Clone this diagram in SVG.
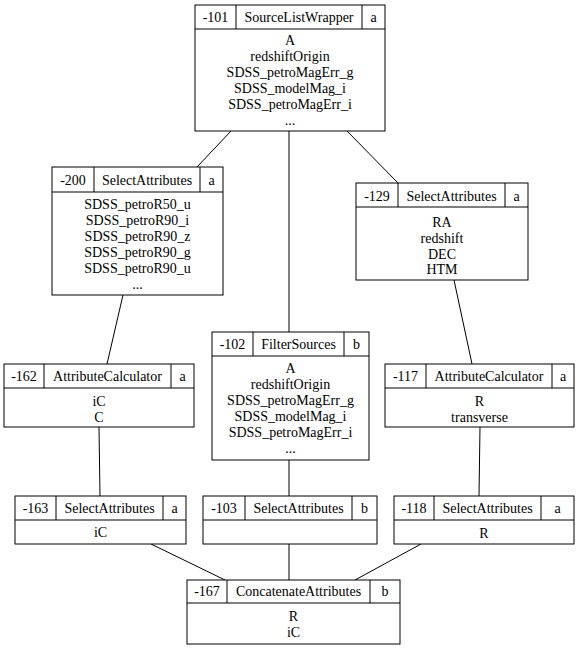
<svg xmlns="http://www.w3.org/2000/svg" width="578" height="648" viewBox="0 0 578 648">
<style>
rect{fill:#fff;stroke:#000;stroke-width:1}
line{stroke:#000;stroke-width:1}
text{font-family:"Liberation Serif","DejaVu Serif","Times New Roman",serif;font-size:14px;text-anchor:middle;fill:#000}
</style>
<g id="connectors">
<line x1="231" y1="131" x2="197" y2="167"/>
<line x1="289" y1="131" x2="289" y2="332"/>
<line x1="347" y1="131" x2="398" y2="183"/>
<line x1="123" y1="295" x2="107" y2="364"/>
<line x1="99" y1="427" x2="100" y2="496"/>
<line x1="289" y1="460" x2="289" y2="496"/>
<line x1="454" y1="280" x2="472" y2="364"/>
<line x1="480" y1="427" x2="479" y2="496"/>
<line x1="151" y1="544" x2="225" y2="580"/>
<line x1="289" y1="544" x2="289" y2="580"/>
<line x1="421" y1="544" x2="355" y2="580"/>
</g>
<g font-family="Liberation Serif, DejaVu Serif, serif">
<g id="n101">
<rect x="195" y="5" width="190" height="126"/>
<line x1="195" y1="29" x2="385" y2="29"/><line x1="236" y1="5" x2="236" y2="29"/><line x1="362" y1="5" x2="362" y2="29"/>
<text x="215.5" y="22">-101</text><text x="299" y="22">SourceListWrapper</text><text x="373.5" y="22">a</text>
<text x="290" y="45">A</text><text x="290" y="61">redshiftOrigin</text><text x="290" y="77">SDSS_petroMagErr_g</text><text x="290" y="93">SDSS_modelMag_i</text><text x="290" y="109">SDSS_petroMagErr_i</text><text x="290" y="125">...</text>
</g>
<g id="n200">
<rect x="52" y="167" width="171" height="128"/>
<line x1="52" y1="192" x2="223" y2="192"/><line x1="94" y1="167" x2="94" y2="192"/><line x1="200" y1="167" x2="200" y2="192"/>
<text x="73" y="185">-200</text><text x="147" y="185">SelectAttributes</text><text x="211.5" y="185">a</text>
<text x="137.5" y="209">SDSS_petroR50_u</text><text x="137.5" y="225">SDSS_petroR90_i</text><text x="137.5" y="241">SDSS_petroR90_z</text><text x="137.5" y="257">SDSS_petroR90_g</text><text x="137.5" y="273">SDSS_petroR90_u</text><text x="137.5" y="289">...</text>
</g>
<g id="n129">
<rect x="356" y="183" width="172" height="97"/>
<line x1="356" y1="207" x2="528" y2="207"/><line x1="398" y1="183" x2="398" y2="207"/><line x1="505" y1="183" x2="505" y2="207"/>
<text x="377" y="201">-129</text><text x="451.5" y="201">SelectAttributes</text><text x="516.5" y="201">a</text>
<text x="442" y="227">RA</text><text x="442" y="243">redshift</text><text x="442" y="259">DEC</text><text x="442" y="274">HTM</text>
</g>
<g id="n102">
<rect x="212" y="332" width="157" height="128"/>
<line x1="212" y1="356" x2="369" y2="356"/><line x1="253" y1="332" x2="253" y2="356"/><line x1="344" y1="332" x2="344" y2="356"/>
<text x="232.5" y="349">-102</text><text x="298.5" y="349">FilterSources</text><text x="356.5" y="349">b</text>
<text x="290.5" y="373">A</text><text x="290.5" y="389">redshiftOrigin</text><text x="290.5" y="405">SDSS_petroMagErr_g</text><text x="290.5" y="421">SDSS_modelMag_i</text><text x="290.5" y="437">SDSS_petroMagErr_i</text><text x="290.5" y="453">...</text>
</g>
<g id="n162">
<rect x="4" y="364" width="190" height="63"/>
<line x1="4" y1="388" x2="194" y2="388"/><line x1="44" y1="364" x2="44" y2="388"/><line x1="171" y1="364" x2="171" y2="388"/>
<text x="24" y="381">-162</text><text x="107.5" y="381">AttributeCalculator</text><text x="182.5" y="381">a</text>
<text x="99" y="406">iC</text><text x="99" y="422">C</text>
</g>
<g id="n117">
<rect x="385" y="364" width="189" height="63"/>
<line x1="385" y1="388" x2="574" y2="388"/><line x1="426" y1="364" x2="426" y2="388"/><line x1="552" y1="364" x2="552" y2="388"/>
<text x="405.5" y="381">-117</text><text x="489" y="381">AttributeCalculator</text><text x="563" y="381">a</text>
<text x="479.5" y="406">R</text><text x="479.5" y="422">transverse</text>
</g>
<g id="n163">
<rect x="15" y="496" width="171" height="48"/>
<line x1="15" y1="520" x2="186" y2="520"/><line x1="56" y1="496" x2="56" y2="520"/><line x1="163" y1="496" x2="163" y2="520"/>
<text x="35.5" y="513">-163</text><text x="109.5" y="513">SelectAttributes</text><text x="174.5" y="513">a</text>
<text x="100.5" y="537">iC</text>
</g>
<g id="n103">
<rect x="203" y="496" width="174" height="48"/>
<line x1="203" y1="520" x2="377" y2="520"/><line x1="245" y1="496" x2="245" y2="520"/><line x1="352" y1="496" x2="352" y2="520"/>
<text x="224" y="513">-103</text><text x="298.5" y="513">SelectAttributes</text><text x="364.5" y="513">b</text>
</g>
<g id="n118">
<rect x="394" y="496" width="180" height="48"/>
<line x1="394" y1="520" x2="574" y2="520"/><line x1="434" y1="496" x2="434" y2="520"/><line x1="541" y1="496" x2="541" y2="520"/>
<text x="414" y="513">-118</text><text x="487.5" y="513">SelectAttributes</text><text x="557.5" y="513">a</text>
<text x="484" y="538">R</text>
</g>
<g id="n167">
<rect x="187" y="580" width="213" height="64"/>
<line x1="187" y1="603" x2="400" y2="603"/><line x1="227" y1="580" x2="227" y2="603"/><line x1="370" y1="580" x2="370" y2="603"/>
<text x="207" y="596">-167</text><text x="298.5" y="596">ConcatenateAttributes</text><text x="385" y="596">b</text>
<text x="293.5" y="621">R</text><text x="293.5" y="637">iC</text>
</g>
</g>
</svg>
